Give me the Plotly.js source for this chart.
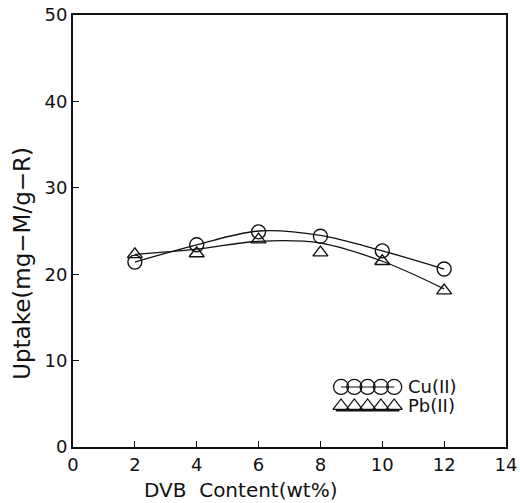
<!DOCTYPE html>
<html>
<head>
<meta charset="utf-8">
<script src="https://cdn.plot.ly/plotly-3.0.1.min.js"></script>
<style>
  html, body { margin: 0; padding: 0; background: #fff; }
  #chart { width: 520px; height: 503px; }
</style>
</head>
<body>
<div id="chart"></div>
<script>
// DVB content (wt%) of the resin
const dvbContent = [2, 4, 6, 8, 10, 12];

// Measured uptake (mg metal / g resin)
const cuUptake = [21.4, 23.4, 24.9, 24.4, 22.7, 20.6];
const pbUptake = [22.3, 22.4, 24.0, 22.5, 21.5, 18.1];

// Smoothed trend curves through each series
const cuTrend = [21.4, 23.4, 25.0, 24.5, 22.7, 20.6];
const pbTrend = [22.3, 22.9, 23.8, 23.6, 21.5, 18.3];

// Axis ticks
const xTicks = [0, 2, 4, 6, 8, 10, 12, 14];
const yTicks = [0, 10, 20, 30, 40, 50];

// Legend entries
const seriesNames = ['Cu(II)', 'Pb(II)'];

const FONT = 'DejaVu Sans, Liberation Sans, sans-serif';
const INK = '#111';

const traces = [
  { x: dvbContent, y: cuTrend, mode: 'lines', line: { color: INK, width: 1.3, shape: 'spline', smoothing: 1 }, hoverinfo: 'skip' },
  { x: dvbContent, y: pbTrend, mode: 'lines', line: { color: INK, width: 1.3, shape: 'spline', smoothing: 1 }, hoverinfo: 'skip' },
  { x: dvbContent, y: cuUptake, mode: 'markers', name: seriesNames[0],
    marker: { symbol: 'circle-open', size: 14, color: INK, line: { width: 1.4, color: INK } } },
  { x: dvbContent, y: pbUptake, mode: 'markers', name: seriesNames[1],
    marker: { symbol: 'triangle-up-open', size: 13, color: INK, line: { width: 1.4, color: INK } } }
];

// Legend key: a row of five overlapping symbols per series, drawn on an overlay axis
// (overlay axis runs 0..1 left-to-right and 0..1 top-to-bottom across the plot area)
const keySlots = [0, 1, 2, 3, 4];
const keyX = keySlots.map(i => 0.619 + i * 0.0307);
const cuRow = 0.861, pbRow = 0.905, pbBase = 0.915;
traces.push(
  { x: keyX, y: keyX.map(() => cuRow), xaxis: 'x2', yaxis: 'y2', mode: 'markers', hoverinfo: 'skip',
    marker: { symbol: 'circle-open', size: 15, color: INK, line: { width: 1.3, color: INK } } },
  { x: [keyX[0], keyX[4]], y: [cuRow, cuRow], xaxis: 'x2', yaxis: 'y2', mode: 'lines', hoverinfo: 'skip',
    line: { color: INK, width: 1.1 } },
  { x: keyX, y: keyX.map(() => pbRow), xaxis: 'x2', yaxis: 'y2', mode: 'markers', hoverinfo: 'skip',
    marker: { symbol: 'triangle-up-open', size: 14, color: INK, line: { width: 1.3, color: INK } } },
  { x: [keyX[0] - 0.012, keyX[4] + 0.012], y: [pbBase, pbBase], xaxis: 'x2', yaxis: 'y2', mode: 'lines', hoverinfo: 'skip',
    line: { color: INK, width: 2.2 } }
);

const layout = {
  width: 520, height: 503,
  margin: { l: 73, r: 14, t: 15, b: 56 },
  paper_bgcolor: '#fff', plot_bgcolor: '#fff',
  showlegend: false,
  font: { family: FONT, color: INK, size: 18 },
  xaxis: {
    range: [0, 14], tickvals: xTicks, ticktext: xTicks.map(String),
    showgrid: false, zeroline: false,
    showline: true, linecolor: INK, linewidth: 2, mirror: true,
    ticks: 'inside', ticklen: 6, tickwidth: 1.2, tickcolor: INK,
    tickfont: { family: FONT, size: 18, color: INK }
  },
  yaxis: {
    range: [0, 50], tickvals: yTicks, ticktext: yTicks.map(String),
    showgrid: false, zeroline: false,
    showline: true, linecolor: INK, linewidth: 2, mirror: true,
    ticks: 'inside', ticklen: 6, tickwidth: 1.2, tickcolor: INK,
    tickfont: { family: FONT, size: 18, color: INK }
  },
  xaxis2: { range: [0, 1], overlaying: 'x', visible: false, fixedrange: true },
  yaxis2: { range: [1, 0], overlaying: 'y', visible: false, fixedrange: true },
  annotations: [
    { text: 'DVB  Content(wt%)', xref: 'paper', yref: 'paper', x: 0.388, y: -0.0995,
      xanchor: 'center', yanchor: 'middle', showarrow: false,
      font: { family: FONT, size: 20, color: INK } },
    { text: 'Uptake(mg−M/g−R)', xref: 'paper', yref: 'paper', x: -0.118, y: 0.426,
      xanchor: 'center', yanchor: 'middle', textangle: -90, showarrow: false,
      font: { family: FONT, size: 23, color: INK } },
    { text: seriesNames[0], xref: 'x2', yref: 'y2', x: keyX[4] + 0.027, y: cuRow,
      xanchor: 'left', yanchor: 'middle', showarrow: false,
      font: { family: FONT, size: 18, color: INK } },
    { text: seriesNames[1], xref: 'x2', yref: 'y2', x: keyX[4] + 0.027, y: pbRow,
      xanchor: 'left', yanchor: 'middle', showarrow: false,
      font: { family: FONT, size: 18, color: INK } }
  ]
};

Plotly.newPlot('chart', traces, layout, { staticPlot: true, displayModeBar: false });
</script>
</body>
</html>
